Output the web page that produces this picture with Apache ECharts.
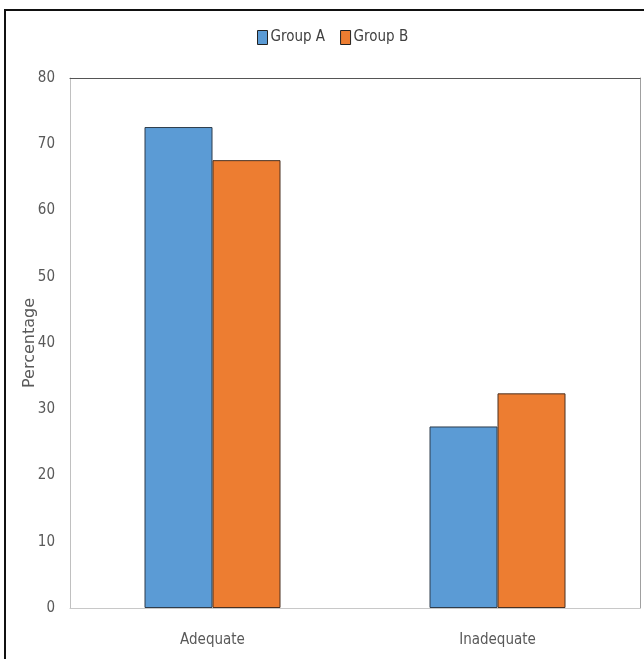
<!DOCTYPE html>
<html>
<head>
<meta charset="utf-8">
<script src="https://cdn.jsdelivr.net/npm/echarts@6/dist/echarts.min.js"></script>
<style>html,body{margin:0;padding:0;background:#fff;}#c{width:644px;height:659px;}</style>
</head>
<body>
<div id="c"></div>
<script>
var categories = ['Adequate', 'Inadequate'];
var groupA = [72.6, 27.4];
var groupB = [67.6, 32.4];
var yTicks = [0, 10, 20, 30, 40, 50, 60, 70, 80];

var narrow = '"DejaVu Sans Condensed", "Liberation Sans Narrow", sans-serif';
var chart = echarts.init(document.getElementById('c'));
chart.setOption({
  animation: false,
  backgroundColor: '#fff',
  graphic: [{
    type: 'rect', silent: true,
    shape: { x: 5, y: 10, width: 700, height: 700 },
    style: { fill: 'none', stroke: '#111', lineWidth: 2 }
  }],
  legend: {
    top: 25, left: 252,
    icon: 'rect',
    itemWidth: 10, itemHeight: 14, itemGap: 15,
    textStyle: { fontFamily: narrow, fontSize: 15, color: '#404040', padding: [0, 0, 0, -2] },
    data: [
      { name: 'Group A', itemStyle: { borderColor: '#222', borderWidth: 1 } },
      { name: 'Group B', itemStyle: { borderColor: '#222', borderWidth: 1 } }
    ]
  },
  grid: { left: 70, right: 4, top: 78, bottom: 51 },
  xAxis: [{
    type: 'category', data: categories,
    axisLine: { lineStyle: { color: '#c8c8c8', width: 1 } },
    axisTick: { show: false },
    axisLabel: { margin: 25, fontFamily: narrow, fontSize: 15, color: '#595959' }
  }, {
    type: 'category', data: categories, position: 'top',
    axisLine: { onZero: false, lineStyle: { color: '#555', width: 1 } },
    axisTick: { show: false }, axisLabel: { show: false }
  }],
  yAxis: [{
    type: 'value', min: yTicks[0], max: yTicks[yTicks.length - 1], interval: 10,
    name: 'Percentage', nameLocation: 'middle', nameGap: 32, nameMoveOverlap: false,
    nameTextStyle: { fontFamily: 'DejaVu Sans', fontSize: 16, color: '#595959' },
    axisLine: { show: true, lineStyle: { color: '#c0c0c0' } },
    axisTick: { show: false },
    splitLine: { show: false },
    axisLabel: { margin: 15, fontFamily: narrow, fontSize: 15, color: '#595959' }
  }, {
    type: 'value', min: 0, max: 80, interval: 10, position: 'right',
    axisLine: { show: true, onZero: false, lineStyle: { color: '#a0a0a0' } },
    axisTick: { show: false }, splitLine: { show: false }, axisLabel: { show: false }
  }],
  series: [{
    name: 'Group A', type: 'bar', data: groupA, barWidth: 68, barGap: '0%',
    itemStyle: { color: '#5B9BD5', borderColor: '#2f3d4c', borderWidth: 1 }
  }, {
    name: 'Group B', type: 'bar', data: groupB, barWidth: 68, barGap: '0%',
    itemStyle: { color: '#ED7D31', borderColor: '#4a3020', borderWidth: 1 }
  }]
});
</script>
</body>
</html>
